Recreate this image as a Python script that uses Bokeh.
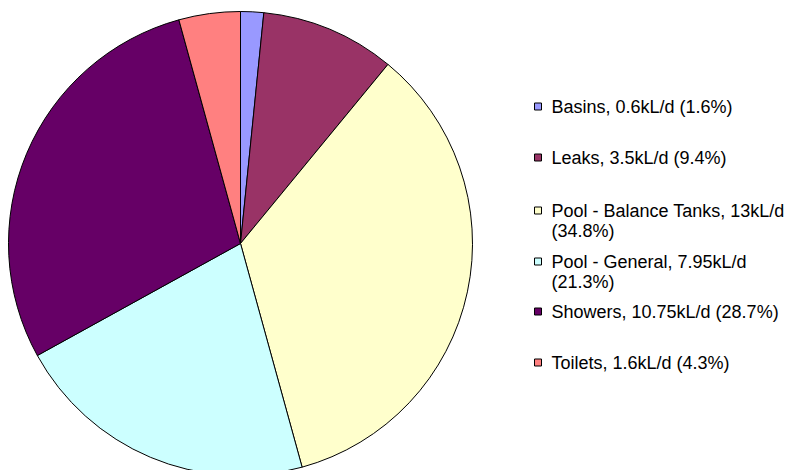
import math
from bokeh.plotting import figure
from bokeh.models import ColumnDataSource, Range1d
from bokeh.core.properties import value
from bokeh.embed import file_html
from bokeh.resources import INLINE

# Data
categories = ["Basins", "Leaks", "Pool - Balance Tanks", "Pool - General", "Showers", "Toilets"]
flows = [0.6, 3.5, 13, 7.95, 10.75, 1.6]
flow_labels = ["0.6kL/d", "3.5kL/d", "13kL/d", "7.95kL/d", "10.75kL/d", "1.6kL/d"]
pct_labels = ["1.6%", "9.4%", "34.8%", "21.3%", "28.7%", "4.3%"]
colors = ["#9999FF", "#993366", "#FFFFCC", "#CCFFFF", "#660066", "#FF8080"]

W, H = 790, 470
p = figure(width=W, height=H, output_backend="svg", toolbar_location=None,
           x_range=Range1d(0, W), y_range=Range1d(0, H), min_border=0)
p.axis.visible = False
p.xgrid.visible = False
p.ygrid.visible = False
p.outline_line_color = None
p.background_fill_color = "white"

cx, cy, r = 240, H - 243, 232
total = sum(flows)
starts, ends = [], []
cum = 0.0
for v in flows:
    starts.append(math.pi / 2 - cum / total * 2 * math.pi)
    cum += v
    ends.append(math.pi / 2 - cum / total * 2 * math.pi)

src = ColumnDataSource(dict(x=[cx] * len(flows), y=[cy] * len(flows),
                            start=starts, end=ends, color=colors))
p.wedge(x="x", y="y", radius=r, start_angle="start", end_angle="end",
        direction="clock", fill_color="color", line_color="black",
        line_width=1, source=src)

# Legend (pixel rows from top)
rows = [106, 157, 210, 261, 311, 362]
split = [False, False, True, True, False, False]
mx, tx = 537.5, 551
sq_src = ColumnDataSource(dict(x=[mx] * 6, y=[H - yy for yy in rows], color=colors))
p.rect(x="x", y="y", width=7, height=7, fill_color="color",
       line_color="black", line_width=1, source=sq_src)

txt_x, txt_y, txt = [], [], []
for i, name in enumerate(categories):
    if split[i]:
        txt.append(f"{name}, {flow_labels[i]}")
        txt_x.append(tx); txt_y.append(H - rows[i])
        txt.append(f"({pct_labels[i]})")
        txt_x.append(tx); txt_y.append(H - rows[i] - 20)
    else:
        txt.append(f"{name}, {flow_labels[i]} ({pct_labels[i]})")
        txt_x.append(tx); txt_y.append(H - rows[i])
t_src = ColumnDataSource(dict(x=txt_x, y=txt_y, text=txt))
p.text(x="x", y="y", text="text", source=t_src, text_font=value("Liberation Sans"),
       text_font_size="18px", text_baseline="middle", text_align="left",
       text_color="black")

open("out.html", "w").write(file_html(p, INLINE))
